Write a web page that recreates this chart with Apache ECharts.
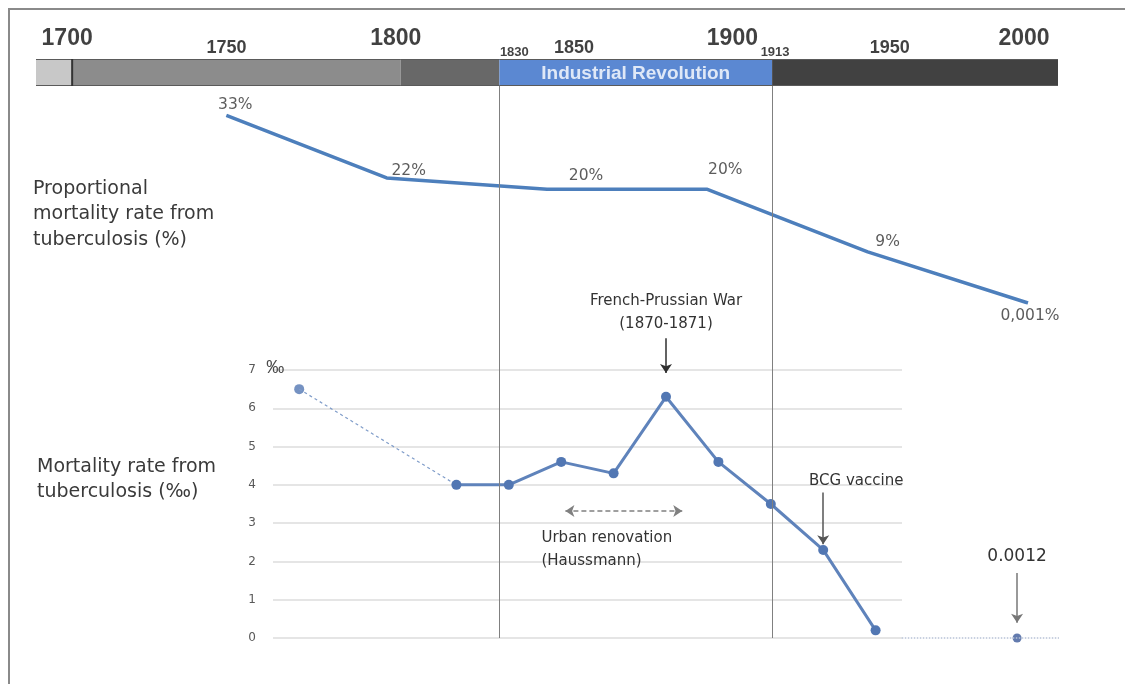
<!DOCTYPE html>
<html><head><meta charset="utf-8">
<script src="https://cdn.jsdelivr.net/npm/echarts@6/dist/echarts.min.js"></script>
<style>html,body{margin:0;padding:0;background:#fff}#c{width:1125px;height:684px}</style>
</head><body><div id="c"></div>
<script>
// ---------------- data ----------------
// timeline periods (year boundaries) and their names
const timelineBounds = [1689, 1700, 1800, 1830, 1913, 2000];
const timelineNames = ['', '', '', 'Industrial Revolution', ''];
// year tick labels above the timeline
const timelineYears = [1700, 1750, 1800, 1830, 1850, 1900, 1913, 1950, 2000];
// vertical reference years
const markerYears = [1830, 1913];

// proportional mortality rate from tuberculosis (%)
const propYears = [1750, 1800, 1850, 1900, 1950, 2000];
const propValues = [33, 22, 20, 20, 9, 0.001];
const propLabels = ['33%', '22%', '20%', '20%', '9%', '0,001%'];

// mortality rate from tuberculosis (per mille), evenly spaced category slots of the source chart
const rateSlots = [0, 3, 4, 5, 6, 7, 8, 9, 10, 11];
const rateValues = [6.5, 4.0, 4.0, 4.6, 4.3, 6.3, 4.6, 3.5, 2.3, 0.2];
const recentSlot = 13.7;
const recentValue = 0.0012;
const recentLabel = '0.0012';
const rateTicks = [0, 1, 2, 3, 4, 5, 6, 7];

// ---------------- styles / layout ----------------
const periodColors = ['#c8c8c8', '#8c8c8c', '#686868', '#5b88d2', '#414141'];
const yearLabelShift = {1700: -5, 1750: -10, 1800: -5, 1830: 15, 1850: 9, 1900: 3, 1913: 3, 1950: -4, 2000: -34};
const propLabelOffsets = [[9, -10], [22, -7], [39, -13], [18, -19], [20, -10], [2, 13]];
const SANS = '"DejaVu Sans", sans-serif';
const LIB = '"Liberation Sans", Arial, sans-serif';

function yearTier(y) {
  if (y % 100 === 0) return {fontSize: 23, distance: 8};
  if (y % 50 === 0) return {fontSize: 18, distance: 1};
  return {fontSize: 13, distance: 0};
}

const periods = timelineBounds.slice(0, -1).map((b, i) => [b, timelineBounds[i + 1]]);

const chart = echarts.init(document.getElementById('c'), null, {renderer: 'canvas'});

const hiddenAxis = (extra) => Object.assign({
  show: false, type: 'value', splitLine: {show: false}, axisLine: {show: false}, axisTick: {show: false}, axisLabel: {show: false}
}, extra);

const option = {
  animation: false,
  backgroundColor: '#ffffff',
  title: [
    {text: 'Proportional\nmortality rate from\ntuberculosis (%)', left: 33, top: 176, padding: 0,
     textStyle: {fontFamily: SANS, fontSize: 19, lineHeight: 25.5, fontWeight: 'normal', color: '#3a3a3a'}},
    {text: 'Mortality rate from\ntuberculosis (‰)', left: 37, top: 454, padding: 0,
     textStyle: {fontFamily: SANS, fontSize: 19, lineHeight: 25.5, fontWeight: 'normal', color: '#3a3a3a'}}
  ],
  graphic: [
    {type: 'line', shape: {x1: 8, y1: 9, x2: 1125, y2: 9}, style: {stroke: '#8a8a8a', lineWidth: 2}, silent: true},
    {type: 'line', shape: {x1: 9, y1: 8, x2: 9, y2: 684}, style: {stroke: '#8a8a8a', lineWidth: 2}, silent: true}
  ],
  grid: [
    {left: 36, right: 67, top: 59, height: 27},          // 0 timeline bar
    {left: 36, right: 67, top: 86, bottom: 46},           // 1 vertical reference lines
    {left: 66, right: 97, top: 104, bottom: 381},         // 2 proportional mortality
    {left: 273, right: 66, top: 293.43, bottom: 46},      // 3 mortality series
    {left: 273, right: 223, top: 370, bottom: 46}         // 4 mortality gridlines / axis
  ],
  xAxis: [
    hiddenAxis({gridIndex: 0, min: 1689, max: 2000}),
    hiddenAxis({gridIndex: 1, min: 1689, max: 2000}),
    hiddenAxis({gridIndex: 2, min: 1700, max: 2000}),
    hiddenAxis({gridIndex: 3, min: -0.5, max: 14.5}),
    hiddenAxis({gridIndex: 4, min: -0.5, max: 11.5})
  ],
  yAxis: [
    hiddenAxis({gridIndex: 0, min: 0, max: 1}),
    hiddenAxis({gridIndex: 1, min: 0, max: 1}),
    hiddenAxis({gridIndex: 2, min: 0, max: 35}),
    hiddenAxis({gridIndex: 3, min: 0, max: 9}),
    {
      gridIndex: 4, type: 'value', min: rateTicks[0], max: rateTicks[rateTicks.length - 1], interval: 1,
      name: '‰', nameLocation: 'end', nameGap: 2,
      nameTextStyle: {fontFamily: LIB, fontSize: 18, color: '#4a4a4a', verticalAlign: 'middle', align: 'center', padding: [0, 48, 0, 0]},
      axisLine: {show: false}, axisTick: {show: false},
      axisLabel: {margin: 17, color: '#595959', fontFamily: SANS, fontSize: 12},
      splitLine: {show: true, lineStyle: {color: '#dcdcdc', width: 1.5}}
    }
  ],
  series: [
    // timeline bar
    {
      type: 'custom', xAxisIndex: 0, yAxisIndex: 0, silent: true,
      data: periods,
      renderItem: function (params, api) {
        const i = params.dataIndex;
        const p0 = api.coord([api.value(0), 1]);
        const p1 = api.coord([api.value(1), 0]);
        const children = [
          {type: 'rect', shape: {x: p0[0], y: p0[1], width: p1[0] - p0[0], height: p1[1] - p0[1]}, style: {fill: periodColors[i]}},
          {type: 'line', shape: {x1: p0[0], y1: p0[1] + 0.5, x2: p1[0], y2: p0[1] + 0.5}, style: {stroke: '#5a5a5a', lineWidth: 1}},
          {type: 'line', shape: {x1: p0[0], y1: p1[1] - 0.5, x2: p1[0], y2: p1[1] - 0.5}, style: {stroke: '#5a5a5a', lineWidth: 1}}
        ];
        if (i === 1) {
          children.push({type: 'line', shape: {x1: p0[0], y1: p0[1], x2: p0[0], y2: p1[1]}, style: {stroke: '#333', lineWidth: 2}});
        }
        if (timelineNames[i]) {
          children.push({type: 'text', x: (p0[0] + p1[0]) / 2, y: (p0[1] + p1[1]) / 2 + 1,
            style: {text: timelineNames[i], fill: '#dfe8f7', font: 'bold 19px ' + LIB, align: 'center', verticalAlign: 'middle'}});
        }
        return {type: 'group', children: children};
      }
    },
    // timeline year labels
    {
      type: 'scatter', xAxisIndex: 0, yAxisIndex: 0, silent: true, symbolSize: 1,
      itemStyle: {color: 'rgba(0,0,0,0)'},
      data: timelineYears.map(y => {
        const t = yearTier(y);
        return {value: [y, 1], label: {show: true, position: 'top', distance: t.distance, formatter: String(y),
          fontFamily: LIB, fontWeight: 'bold', fontSize: t.fontSize, color: '#111111', offset: [yearLabelShift[y] || 0, 0]}};
      })
    },
    // vertical reference lines
    {
      type: 'line', xAxisIndex: 1, yAxisIndex: 1, silent: true, symbol: 'none', data: [[1689, 0.5]],
      lineStyle: {opacity: 0},
      markLine: {
        silent: true, symbol: ['none', 'none'], label: {show: false},
        lineStyle: {color: '#808080', width: 1, type: 'solid'},
        data: markerYears.map(y => [{coord: [y, 1]}, {coord: [y, 0]}])
      }
    },
    // proportional mortality line
    {
      type: 'line', xAxisIndex: 2, yAxisIndex: 2, silent: true, symbol: 'none',
      lineStyle: {color: '#4d7fbc', width: 3.5},
      data: propYears.map((y, i) => [y, propValues[i]])
    },
    {
      type: 'scatter', xAxisIndex: 2, yAxisIndex: 2, silent: true, symbolSize: 1,
      itemStyle: {color: 'rgba(0,0,0,0)'},
      data: propYears.map((y, i) => ({value: [y, propValues[i]],
        label: {show: true, position: 'inside', formatter: propLabels[i], offset: propLabelOffsets[i],
          fontFamily: SANS, fontSize: 15.5, color: '#333333'}}))
    },
    // dashed link between the first two known points
    {
      type: 'line', xAxisIndex: 3, yAxisIndex: 3, silent: true, symbol: 'none',
      lineStyle: {color: '#7f9cc9', width: 1.2, type: [3, 3]},
      data: [[rateSlots[0], rateValues[0]], [rateSlots[1], rateValues[1]]]
    },
    // main mortality line
    {
      type: 'line', xAxisIndex: 3, yAxisIndex: 3, silent: true, clip: false,
      symbol: 'circle', symbolSize: 10,
      itemStyle: {color: '#5277b3'},
      lineStyle: {color: '#5f83bb', width: 3},
      data: rateSlots.slice(1).map((s, i) => [s, rateValues[i + 1]]),
      markLine: {
        silent: true, symbol: ['none', 'arrow'], symbolSize: 9,
        lineStyle: {color: '#2f2f2f', width: 1.5, type: 'solid'},
        label: {fontFamily: SANS, fontSize: 15, color: '#333', lineHeight: 23},
        data: [
          [{coord: [7, 7.83], label: {show: true, position: 'start', distance: 3, formatter: 'French-Prussian War\n(1870-1871)'}},
           {coord: [7, 6.92]}],
          [{coord: [10, 3.8], label: {show: true, position: 'start', distance: 0, padding: [0, 0, 0, 66], formatter: 'BCG vaccine'}, lineStyle: {color: '#555'}},
           {coord: [10, 2.45]}],
          [{coord: [recentSlot, 1.7], label: {show: true, position: 'start', distance: 5, formatter: recentLabel, fontSize: 17}, lineStyle: {color: '#777'}},
           {coord: [recentSlot, 0.4]}],
          [{coord: [5.08, 3.32], symbol: 'arrow', lineStyle: {color: '#808080', type: [5, 3], width: 1.5},
            label: {show: true, position: 'insideMiddleBottom', distance: 16, padding: [0, 34, 0, 0],
              formatter: '{a|Urban renovation}\n{a|(Haussmann)}',
              rich: {a: {fontFamily: SANS, fontSize: 15, color: '#333', lineHeight: 23, align: 'left'}}}},
           {coord: [7.31, 3.32]}]
        ]
      }
    },
    // first (isolated) point
    {
      type: 'scatter', xAxisIndex: 3, yAxisIndex: 3, silent: true, symbolSize: 10,
      itemStyle: {color: '#5277b3'},
      data: [[rateSlots[0], rateValues[0]]]
    },
    // most recent point, with dotted baseline beyond the chart area
    {
      type: 'scatter', xAxisIndex: 3, yAxisIndex: 3, silent: true, symbolSize: 9,
      itemStyle: {color: '#3c5a9a'},
      data: [[recentSlot, recentValue]],
      markLine: {
        silent: true, symbol: ['none', 'none'], label: {show: false},
        lineStyle: {color: '#b8c2d6', width: 1.5, type: 'dotted'},
        data: [[{coord: [11.5, 0]}, {coord: [14.5, 0]}]]
      }
    }
  ]
};
chart.setOption(option);
</script>
</body></html>
